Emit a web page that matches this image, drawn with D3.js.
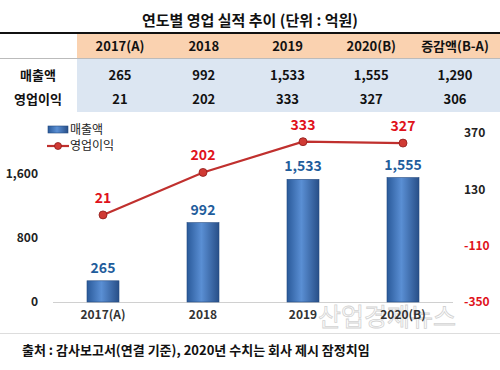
<!DOCTYPE html>
<html>
<head>
<meta charset="utf-8">
<script src="https://cdn.jsdelivr.net/npm/d3@7"></script>
<style>
  body { margin: 0; background: #fff; }
  svg { font-family: "Noto Sans CJK KR", "Noto Sans", sans-serif; }
</style>
</head>
<body>
<script>
const w = 500; // width
const h = 370; // height

// data
const years = ["2017(A)", "2018", "2019", "2020(B)"];
const sales = [265, 992, 1533, 1555];        // 매출액
const profit = [21, 202, 333, 327];          // 영업이익
const headers = ["2017(A)", "2018", "2019", "2020(B)", "증감액(B-A)"];
const salesRow = ["265", "992", "1,533", "1,555", "1,290"];
const profitRow = ["21", "202", "333", "327", "306"];
const leftTicks = [0, 800, 1600];
const rightTicks = [-350, -110, 130, 370];

let svg = d3.select("body")
    .append("svg")
    .attr("width", w)
    .attr("height", h);

// gradient for bars
let defs = svg.append("defs");
let grad = defs.append("linearGradient")
    .attr("id", "barGrad")
    .attr("x1", "0%").attr("x2", "100%")
    .attr("y1", "0%").attr("y2", "0%");
grad.append("stop").attr("offset", "0%").attr("stop-color", "#2a5a9a");
grad.append("stop").attr("offset", "45%").attr("stop-color", "#5a8fd4");
grad.append("stop").attr("offset", "100%").attr("stop-color", "#284f88");

// title
svg.append("text")
    .attr("x", 250)
    .attr("y", 26)
    .attr("text-anchor", "middle")
    .attr("font-size", 15)
    .attr("font-weight", "bold")
    .attr("fill", "#111")
    .text("연도별 영업 실적 추이 (단위 : 억원)");

// table
let colX = d3.scalePoint().domain(headers).range([120, 455]);
svg.append("rect").attr("x", 77).attr("y", 34).attr("width", w - 77).attr("height", 24).attr("fill", "#fad2b0");
svg.append("rect").attr("x", 77).attr("y", 59).attr("width", w - 77).attr("height", 53).attr("fill", "#dce6f2");
svg.append("line").attr("x1", 0).attr("x2", w).attr("y1", 33).attr("y2", 33)
    .attr("stroke", "#111").attr("stroke-width", 2);
svg.append("line").attr("x1", 0).attr("x2", w).attr("y1", 58.5).attr("y2", 58.5)
    .attr("stroke", "#bbb").attr("stroke-width", 1);

svg.append("g").selectAll("text")
    .data(headers)
    .join("text")
    .attr("x", (d) => colX(d))
    .attr("y", 51)
    .attr("text-anchor", "middle")
    .attr("font-size", 13)
    .attr("font-weight", "bold")
    .attr("fill", "#111")
    .text((d) => d);

[[ "매출액", salesRow, 80 ], [ "영업이익", profitRow, 104 ]].forEach(([label, row, y]) => {
    svg.append("text")
        .attr("x", 38).attr("y", y)
        .attr("text-anchor", "middle")
        .attr("font-size", 13).attr("font-weight", "bold").attr("fill", "#111")
        .text(label);
    svg.append("g").selectAll("text")
        .data(row)
        .join("text")
        .attr("x", (d, i) => colX(headers[i]))
        .attr("y", y)
        .attr("text-anchor", "middle")
        .attr("font-size", 13)
        .attr("font-weight", "bold")
        .attr("fill", "#111")
        .text((d) => d);
});

// scales
let x = d3.scaleBand().domain(years).range([53, 453]).paddingInner(0.68).paddingOuter(0.34);
let yL = d3.scaleLinear().domain([0, 1600]).range([302, 174]);
let yR = d3.scaleLinear().domain([-350, 370]).range([302, 133]);

// watermark (behind chart text)
svg.append("text")
    .attr("x", 387).attr("y", 326)
    .attr("text-anchor", "middle")
    .attr("font-size", 25)
    .attr("fill", "none")
    .attr("stroke", "#c8c8c8")
    .attr("stroke-width", 0.8)
    .attr("opacity", 0.8)
    .text("산업경제뉴스");

// baseline
svg.append("line").attr("x1", 53).attr("x2", 453).attr("y1", 302.5).attr("y2", 302.5)
    .attr("stroke", "#d0d0d0");

// left axis
let axisL = d3.axisLeft(yL).tickValues(leftTicks).tickFormat(d3.format(",")).tickSize(0).tickPadding(0);
let gL = svg.append("g").attr("transform", "translate(38,0)").call(axisL);
gL.select(".domain").remove();
gL.selectAll("text").attr("font-size", 12).attr("font-weight", "bold").attr("fill", "#222")
    .attr("font-family", "\"Noto Sans CJK KR\", sans-serif");

// right axis
let axisR = d3.axisRight(yR).tickValues(rightTicks).tickFormat((d) => String(d)).tickSize(0).tickPadding(0);
let gR = svg.append("g").attr("transform", "translate(464,0)").call(axisR);
gR.select(".domain").remove();
gR.selectAll("text").attr("font-size", 12).attr("font-weight", "bold")
    .attr("fill", (d) => d < 0 ? "#e0121b" : "#222")
    .attr("font-family", "\"Noto Sans CJK KR\", sans-serif");

// x axis labels
let axisX = d3.axisBottom(x).tickSize(0).tickPadding(0);
let gX = svg.append("g").attr("transform", "translate(0,310)").call(axisX);
gX.select(".domain").remove();
gX.selectAll("text").attr("font-size", 12).attr("font-weight", "bold").attr("fill", "#333")
    .attr("font-family", "\"Noto Sans CJK KR\", sans-serif");

// bars
svg.append("g").selectAll("rect")
    .data(sales)
    .join("rect")
    .attr("x", (d, i) => x(years[i]))
    .attr("y", (d) => yL(d))
    .attr("width", x.bandwidth())
    .attr("height", (d) => yL(0) - yL(d))
    .attr("fill", "url(#barGrad)")
    .attr("stroke", "#244a80")
    .attr("stroke-width", 0.6);

svg.append("g").selectAll("text")
    .data(sales)
    .join("text")
    .attr("x", (d, i) => x(years[i]) + x.bandwidth() / 2)
    .attr("y", (d) => yL(d) - 8)
    .attr("text-anchor", "middle")
    .attr("font-size", 14)
    .attr("font-weight", "bold")
    .attr("fill", "#1f5d9c")
    .text((d) => d3.format(",")(d));

// line
let line = d3.line()
    .x((d, i) => x(years[i]) + x.bandwidth() / 2)
    .y((d) => yR(d));
svg.append("path")
    .datum(profit)
    .attr("d", line)
    .attr("fill", "none")
    .attr("stroke", "#c0302e")
    .attr("stroke-width", 2.2);

svg.append("g").selectAll("circle")
    .data(profit)
    .join("circle")
    .attr("cx", (d, i) => x(years[i]) + x.bandwidth() / 2)
    .attr("cy", (d) => yR(d))
    .attr("r", 4)
    .attr("fill", "#d03a34")
    .attr("stroke", "#8e1c1a")
    .attr("stroke-width", 0.8);

svg.append("g").selectAll("text")
    .data(profit)
    .join("text")
    .attr("x", (d, i) => x(years[i]) + x.bandwidth() / 2)
    .attr("y", (d) => yR(d) - 12)
    .attr("text-anchor", "middle")
    .attr("font-size", 14)
    .attr("font-weight", "bold")
    .attr("fill", "#e0121b")
    .text((d) => d);

// legend
let lg = svg.append("g");
lg.append("rect").attr("x", 48).attr("y", 126).attr("width", 20).attr("height", 7)
    .attr("fill", "url(#barGrad)").attr("stroke", "#244a80").attr("stroke-width", 0.6);
lg.append("text").attr("x", 70).attr("y", 134).attr("font-size", 12).attr("fill", "#222").text("매출액");
lg.append("line").attr("x1", 47).attr("x2", 69).attr("y1", 146).attr("y2", 146)
    .attr("stroke", "#c0302e").attr("stroke-width", 2.2);
lg.append("circle").attr("cx", 58).attr("cy", 146).attr("r", 3.5)
    .attr("fill", "#d03a34").attr("stroke", "#8e1c1a").attr("stroke-width", 0.8);
lg.append("text").attr("x", 70).attr("y", 150).attr("font-size", 12).attr("fill", "#222").text("영업이익");

// footer
svg.append("line").attr("x1", 0).attr("x2", w).attr("y1", 333.5).attr("y2", 333.5)
    .attr("stroke", "#ddd");
svg.append("text")
    .attr("x", 22).attr("y", 355)
    .attr("font-size", 13)
    .attr("font-weight", "bold")
    .attr("fill", "#111")
    .text("출처 : 감사보고서(연결 기준), 2020년 수치는 회사 제시 잠정치임");
</script>
</body>
</html>
